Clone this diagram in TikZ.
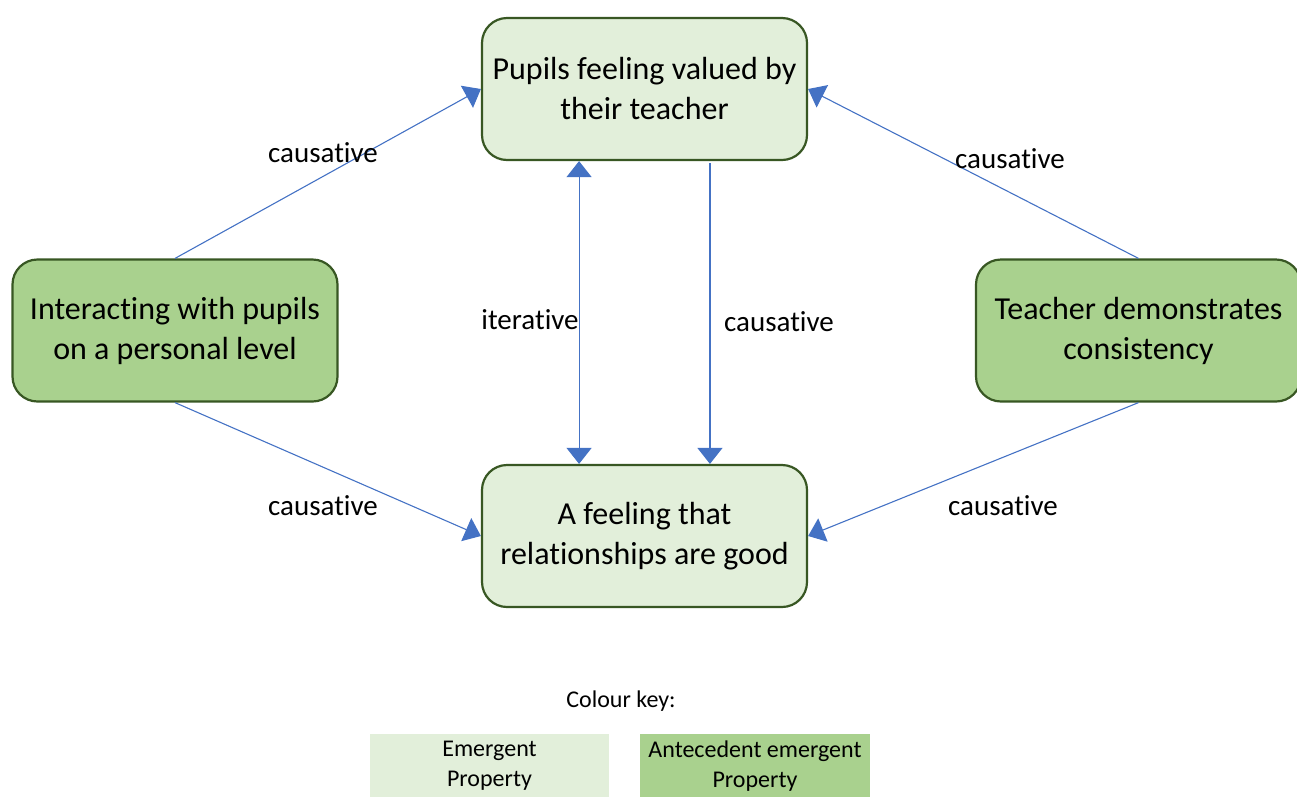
\documentclass[tikz,border=0pt]{standalone}
\usepackage{fontspec}
\setmainfont{Carlito}[Ligatures=NoCommon]
\usetikzlibrary{arrows.meta,calc}
\definecolor{lightfill}{RGB}{226,239,218}
\definecolor{darkfill}{RGB}{169,209,142}
\definecolor{boxline}{RGB}{56,87,35}
\definecolor{linkblue}{RGB}{68,114,196}
\tikzset{
  prop/.style={draw=boxline, line width=2.2pt, rounded corners=25pt,
    minimum width=325pt, minimum height=142pt, align=center,
    font=\fontsize{32}{40}\selectfont, inner sep=0pt},
  emergent/.style={prop, fill=lightfill},
  antecedent/.style={prop, fill=darkfill},
  link/.style={draw=linkblue, line width=1.1pt,
    -{Triangle[width=25pt,length=16pt]}},
  biglink/.style={draw=linkblue, line width=1.1pt,
    {Triangle[width=25pt,length=16pt]}-{Triangle[width=25pt,length=16pt]}},
  lbl/.style={font=\fontsize{29}{34}\selectfont, inner sep=0pt},
  keybox/.style={minimum width=#1, minimum height=64pt, inner sep=0pt,
    align=center, font=\fontsize{24}{30}\selectfont},
}
\begin{document}
\begin{tikzpicture}[x=1pt,y=-1pt]
\useasboundingbox (0,0) rectangle (1297,796);

% property boxes
\node[emergent]   (T) at (644.5,89)   {Pupils feeling valued by\\their teacher};
\node[emergent]   (B) at (644.5,536)  {A feeling that\\relationships are good};
\node[antecedent] (L) at (175,330.5)  {Interacting with pupils\\on a personal level};
\node[antecedent] (R) at (1138.5,330.5) {Teacher demonstrates\\consistency};

% connectors
\draw[link] (L.north) -- (T.west);
\draw[link] (L.south) -- (B.west);
\draw[link] (R.north) -- (T.east);
\draw[link] (R.south) -- (B.east);
\coordinate (Ta) at ($(T.south west)!0.3!(T.south east)$);
\coordinate (Ba) at ($(B.north west)!0.3!(B.north east)$);
\coordinate (Tb) at ($(T.south west)!0.7!(T.south east)+(0,2)$);
\coordinate (Bb) at ($(B.north west)!0.7!(B.north east)$);
\draw[biglink] (Ta) -- (Ba);
\draw[link] (Tb) -- (Bb);

% connector labels
\node[lbl] (l1) at (323,153) {causative};
\node[lbl] (l2) at (323,506) {causative};
\node[lbl] (l3) at (1010,159) {causative};
\node[lbl] (l4) at (1003,506) {causative};
\node[lbl] (l5) at (530,320) {iterative};
\node[lbl] (l6) at (779,322) {causative};

% colour key
\node[font=\fontsize{24}{30}\selectfont] (kt) at (621,701) {Colour key:};
\node[keybox=239pt, fill=lightfill] (k1) at (489.5,766) {Emergent\\Property};
\node[keybox=230pt, fill=darkfill]  (k2) at (755,766) {Antecedent emergent\\Property};
\end{tikzpicture}
\end{document}
